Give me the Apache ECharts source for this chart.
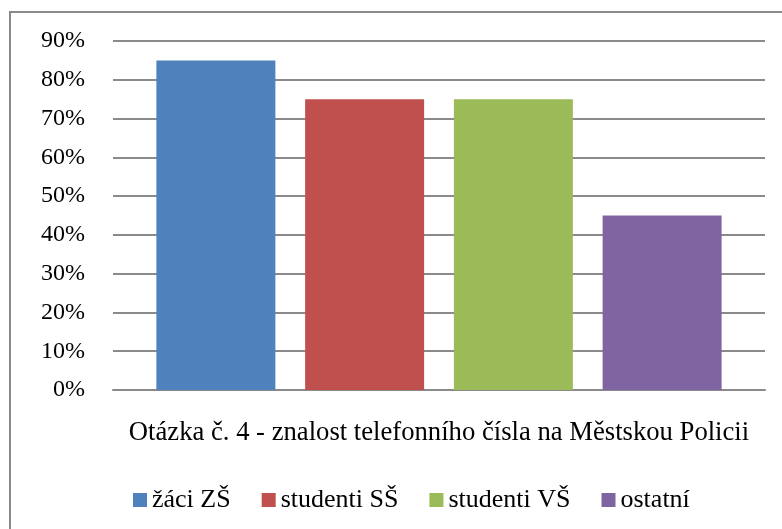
<!DOCTYPE html>
<html>
<head>
<meta charset="utf-8">
<script src="https://cdn.jsdelivr.net/npm/echarts@6/dist/echarts.min.js"></script>
<style>
html,body{margin:0;padding:0;background:#fff;}
#c{width:782px;height:529px;}
</style>
</head>
<body>
<div id="c"></div>
<script>
const categories = ['Otázka č. 4 - znalost telefonního čísla na Městskou Policii'];
const seriesNames = ['žáci ZŠ', 'studenti SŠ', 'studenti VŠ', 'ostatní'];
const seriesValues = [[0.85], [0.75], [0.75], [0.45]];
const colors = ['#4F81BD', '#C0504D', '#9BBB59', '#8064A2'];

const FONT = '"Liberation Serif", "Times New Roman", serif';
const chart = echarts.init(document.getElementById('c'), null, {renderer: 'canvas'});

chart.setOption({
  animation: false,
  backgroundColor: '#fff',
  graphic: [{
    type: 'rect',
    shape: {x: 10, y: 12, width: 900, height: 700},
    style: {fill: 'none', stroke: '#8a8a8a', lineWidth: 2},
    silent: true
  }],
  grid: {left: 113, right: 17, top: 41, bottom: 139, containLabel: false},
  legend: {
    data: seriesNames,
    left: 128,
    top: 482,
    icon: 'rect',
    itemWidth: 14,
    itemHeight: 14,
    itemGap: 31,
    textStyle: {fontFamily: FONT, fontSize: 26, color: '#000'}
  },
  xAxis: {
    type: 'category',
    data: categories,
    axisLine: {show: true, lineStyle: {color: '#8a8a8a', width: 2}},
    axisTick: {show: false},
    axisLabel: {fontFamily: FONT, fontSize: 26.67, color: '#000', margin: 29}
  },
  yAxis: {
    type: 'value',
    min: 0,
    max: 0.9,
    interval: 0.1,
    axisLine: {show: false},
    axisTick: {show: false},
    splitLine: {lineStyle: {color: '#8a8a8a', width: 2}},
    axisLabel: {
      fontFamily: FONT, fontSize: 24, color: '#000', margin: 28,
      formatter: v => Math.round(v * 100) + '%'
    }
  },
  series: seriesNames.map((n, i) => ({
    name: n,
    type: 'bar',
    data: seriesValues[i],
    barWidth: 119,
    barGap: '25%',
    itemStyle: {color: colors[i]}
  }))
});
</script>
</body>
</html>
